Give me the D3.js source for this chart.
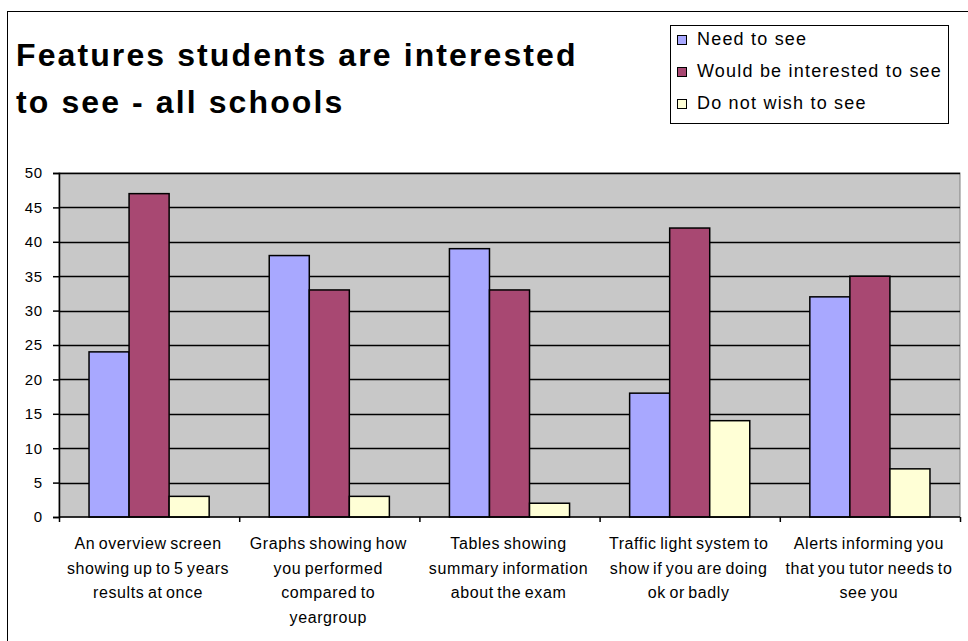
<!DOCTYPE html>
<html><head><meta charset="utf-8">
<script src="https://cdn.jsdelivr.net/npm/d3@7"></script>
<style>body{margin:0;background:#fff}svg{display:block;font-family:Arial,"Liberation Sans",sans-serif}</style>
</head><body>
<script>
const categories = [
  ["An overview screen","showing up to 5 years","results at once"],
  ["Graphs showing how","you performed","compared to","yeargroup"],
  ["Tables showing","summary information","about the exam"],
  ["Traffic light system to","show if you are doing","ok or badly"],
  ["Alerts informing you","that you tutor needs to","see you"]
];
const seriesNames = ["Need to see","Would be interested to see","Do not wish to see"];
const needToSee = [24, 38, 39, 18, 32];
const wouldBeInterested = [47, 33, 33, 42, 35];
const doNotWish = [3, 3, 2, 14, 7];
const yTicks = [0,5,10,15,20,25,30,35,40,45,50];
const colors = ["#A8A8FF","#A84872","#FFFFD6"];
const seriesValues = [needToSee, wouldBeInterested, doNotWish];

const W = 968, H = 641;
const svg = d3.select("body").append("svg").attr("width", W).attr("height", H);
svg.append("rect").attr("x",7.5).attr("y",11.5).attr("width",W+20).attr("height",H+20)
  .attr("fill","#fff").attr("stroke","#000").attr("stroke-width",1);

const L = 59, R = 960, T = 173, B = 517;
const x0 = d3.scaleBand().domain(d3.range(categories.length)).range([L, R]).padding(0);
const x1 = d3.scaleBand().domain(d3.range(3)).range([0, x0.bandwidth()]).paddingOuter(0.75).paddingInner(0);
const y = d3.scaleLinear().domain([0, 50]).range([B, T]);

svg.append("rect").attr("x",L).attr("y",T).attr("width",R-L).attr("height",B-T)
  .attr("fill","#C8C8C8").attr("stroke","#808080");

svg.append("g").selectAll("line").data(yTicks.slice(1)).join("line")
  .attr("x1",L).attr("x2",R).attr("y1",d=>Math.round(y(d))+0.5).attr("y2",d=>Math.round(y(d))+0.5)
  .attr("stroke","#000").attr("stroke-width",1.5);

const g = svg.append("g");
categories.forEach((c,i)=>{
  seriesValues.forEach((vals,s)=>{
    g.append("rect").attr("x",x0(i)+x1(s)).attr("y",y(vals[i]))
      .attr("width",x1.bandwidth()).attr("height",B-y(vals[i]))
      .attr("fill",colors[s]).attr("stroke","#000").attr("stroke-width",1.5);
  });
});

const yAxis = svg.append("g").attr("transform",`translate(${L},0)`)
  .call(d3.axisLeft(y).tickValues(yTicks).tickSize(6).tickPadding(10));
yAxis.selectAll("text").attr("font-size",15).attr("fill","#000").attr("font-family","Arial, Liberation Sans, sans-serif").attr("letter-spacing",0.8);
yAxis.selectAll("line,path").attr("stroke","#000").attr("stroke-width",1.5);

const xAxis = svg.append("g").attr("transform",`translate(0,${B})`)
  .call(d3.axisBottom(d3.scaleLinear().domain([0,5]).range([L,R])).ticks(5).tickSize(5).tickFormat(""));
xAxis.selectAll("line,path").attr("stroke","#000").attr("stroke-width",1.5);
xAxis.select("path").attr("d",`M${L},0H${R}`);

categories.forEach((lines,i)=>{
  const cx = x0(i)+x0.bandwidth()/2 - 1;
  const t = svg.append("text").attr("text-anchor","middle").attr("font-size",16)
    .attr("letter-spacing",0.6).attr("word-spacing",-1.5).attr("fill","#000");
  lines.forEach((ln,k)=>t.append("tspan").attr("x",cx).attr("y",549+k*24.5).text(ln));
});

const title = svg.append("text").attr("font-size",32).attr("font-weight","bold").attr("fill","#000").attr("letter-spacing",2.1);
title.append("tspan").attr("x",16).attr("y",66).text("Features students are interested");
title.append("tspan").attr("x",16).attr("y",113).text("to see - all schools");

const lg = svg.append("g");
lg.append("rect").attr("x",670.5).attr("y",25.5).attr("width",278).attr("height",98).attr("fill","#fff").attr("stroke","#000");
seriesNames.forEach((n,i)=>{
  const cy = 40 + i*32;
  lg.append("rect").attr("x",677.5).attr("y",cy-4.5).attr("width",9).attr("height",9).attr("fill",colors[i]).attr("stroke","#000");
  lg.append("text").attr("x",697).attr("y",cy+4.5).attr("font-size",18).attr("letter-spacing",1.2).attr("fill","#000").text(n);
});
</script>
</body></html>
